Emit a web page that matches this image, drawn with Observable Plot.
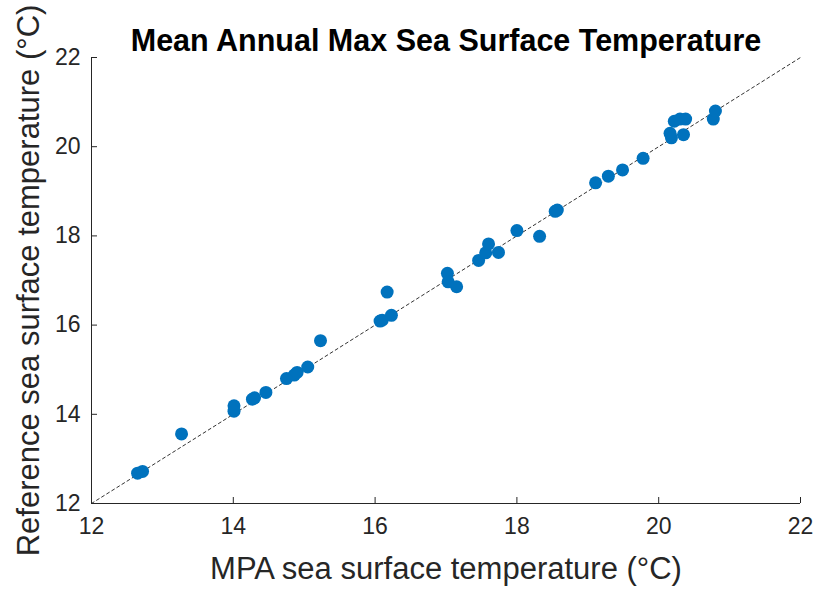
<!DOCTYPE html>
<html>
<head>
<meta charset="utf-8">
<script src="https://cdn.jsdelivr.net/npm/d3@7"></script>
<script src="https://cdn.jsdelivr.net/npm/@observablehq/plot@0.6"></script>
<style>
  html, body { margin: 0; padding: 0; background: #fff; }
  svg { font-family: "Liberation Sans", Arial, sans-serif; }
</style>
</head>
<body>
<div id="chart"></div>
<script>
const titleText = "Mean Annual Max Sea Surface Temperature";
const xLabel = "MPA sea surface temperature (°C)";
const yLabel = "Reference sea surface temperature (°C)";
const tickValues = [12, 14, 16, 18, 20, 22];
const mpaTemp = [12.65,12.72,13.27,14.01,14.01,14.27,14.3,14.46,14.75,14.86,14.9,15.05,15.23,16.07,16.1,16.17,16.23,17.02,17.03,17.15,17.46,17.56,17.6,17.74,18.0,18.32,18.54,18.57,19.11,19.29,19.49,19.78,20.16,20.18,20.22,20.3,20.38,20.35,20.77,20.8];
const refTemp = [12.68,12.72,13.56,14.19,14.07,14.34,14.37,14.49,14.8,14.88,14.94,15.06,15.65,16.09,16.11,16.74,16.22,17.16,16.97,16.86,17.45,17.62,17.82,17.63,18.12,17.99,18.55,18.58,19.19,19.34,19.48,19.74,20.3,20.2,20.57,20.62,20.62,20.27,20.62,20.8];
const identityLine = [12, 22];

const points = mpaTemp.map((x, i) => ({x, y: refTemp[i]}));

const chart = Plot.plot({
  width: 821,
  height: 589,
  marginLeft: 91,
  marginRight: 21,
  marginTop: 57,
  marginBottom: 86,
  style: {fontFamily: "'Liberation Sans', Arial, sans-serif", color: "#262626", background: "#fff"},
  x: {domain: [12, 22]},
  y: {domain: [12, 22]},
  marks: [
    Plot.line(identityLine.map(v => ({x: v, y: v})), {x: "x", y: "y", stroke: "#333", strokeWidth: 1, strokeDasharray: "3,3"}),
    Plot.dot(points, {x: "x", y: "y", r: 6.5, fill: "#0072BD", stroke: "none"}),
    Plot.axisX({ticks: tickValues, tickSize: -6, tickPadding: 20, fontSize: 23, label: null, stroke: "#262626", fill: "#262626"}),
    Plot.axisY({ticks: tickValues, tickSize: -6, tickPadding: 17, fontSize: 23, label: null, stroke: "#262626", fill: "#262626"}),
    Plot.axisX({ticks: [], label: xLabel, labelAnchor: "center", labelArrow: "none", labelOffset: 75, fontSize: 31, fill: "#262626"}),
    Plot.axisY({ticks: [], label: yLabel, labelAnchor: "center", labelArrow: "none", labelOffset: 75, fontSize: 31, fill: "#262626"}),
    Plot.ruleX([12], {stroke: "#262626", strokeWidth: 1}),
    Plot.ruleY([12], {stroke: "#262626", strokeWidth: 1}),
    Plot.text([titleText], {frameAnchor: "top", dy: -28, fontSize: 30.5, fontWeight: "bold", fill: "#000"})
  ]
});
document.getElementById("chart").appendChild(chart);
</script>
</body>
</html>
